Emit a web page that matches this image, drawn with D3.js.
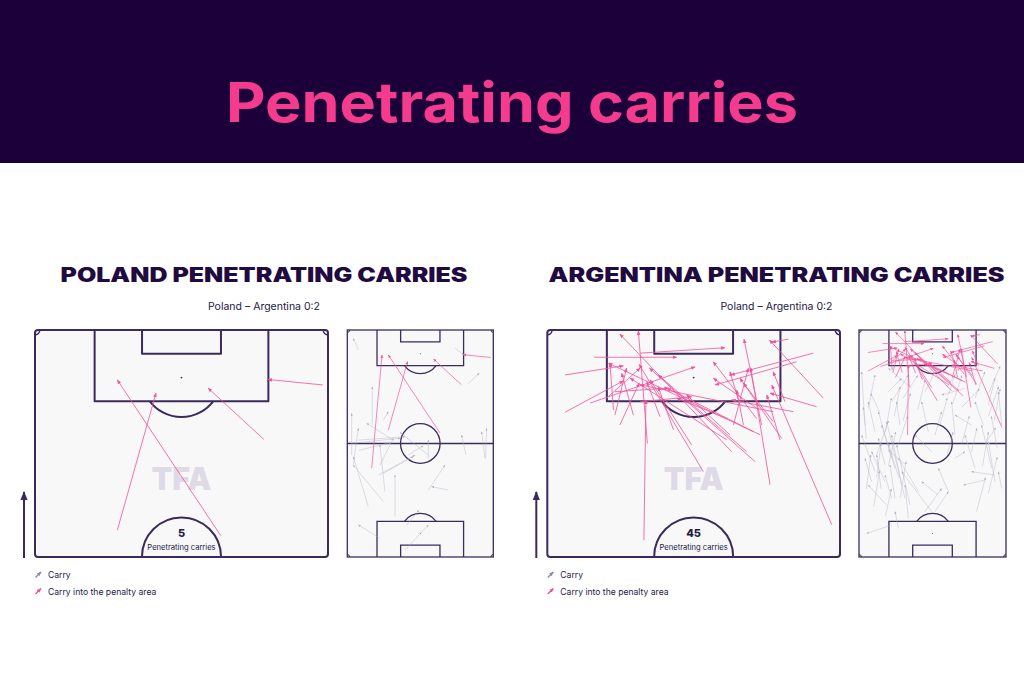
<!DOCTYPE html>
<html><head><meta charset="utf-8">
<script src="https://cdn.jsdelivr.net/npm/d3@7"></script>
<style>body{margin:0;background:#fff}svg{display:block}</style>
</head><body><svg id="c" width="1024" height="683"></svg>
<script>
// ---------- DATA ----------
const mainTitle = "Penetrating carries";
const panelTitles = ["POLAND PENETRATING CARRIES", "ARGENTINA PENETRATING CARRIES"];
const subtitles = ["Poland – Argentina 0:2", "Poland – Argentina 0:2"];
const carryCounts = [5, 45];
const countLabel = "Penetrating carries";
const legendLabels = ["Carry", "Carry into the penalty area"];
const watermark = "TFA";
// Each carry: [x start, y start, x end, y end]
// x = along the pitch (0 own goal line -> 100 opponent goal line), y = across (0 left touchline -> 100 right)
const polandPen = [
  [55.9,28.1,86.1,41.3],[54.7,63.4,89.0,28.1],[75.9,78.1,87.2,59.1],[87.9,98.2,89.1,79.5],[39.1,16.7,89.0,23.8]
];
const polandCarries = [
  [91.2,7.6,96.3,4.1],[92.0,73.8,89.0,79.9],[76.1,82.4,81.0,90.4],[58.1,17.1,75.0,17.1],[60.3,24.7,64.0,28.1],
  [44.9,3.0,63.3,3.0],[40.5,4.1,56.7,7.6],[51.5,31.5,58.9,13.3],[50.1,3.0,52.3,36.1],[44.9,55.5,54.9,36.1],
  [28.8,25.8,49.3,22.4],[36.1,21.3,44.9,46.4],[36.9,24.7,44.2,45.2],[17.8,32.7,36.1,32.7],[22.2,14.4,44.2,4.1],
  [24.4,24.7,40.5,4.1],[43.5,55.5,51.5,55.5],[29.5,55.5,40.5,66.9],[29.5,69.2,31.0,57.8],[44.9,81.3,53.7,78.3],
  [43.5,94.3,55.2,92.0],[43.5,94.7,56.7,95.4],[8.3,22.4,14.1,7.6],[3.1,39.5,14.1,55.5],[14.1,40.7,20.7,49.1],
  [40.5,22.4,52.3,31.5],[47.0,8.0,50.5,30.0],[45.0,42.0,49.0,52.0],[51.5,7.6,53.0,39.5]
];
const argentinaPen = [
  [53.7,33.0,84.6,33.7],[75.0,34.2,99.8,31.1],[73.2,63.0,99.1,24.8],[94.0,16.0,94.0,44.2],[94.9,31.7,96.1,60.7],
  [90.1,6.1,92.1,26.0],[81.9,6.1,88.8,26.0],[83.9,14.6,91.9,50.5],[79.1,24.8,88.3,31.4],[79.1,73.2,98.0,67.2],
  [85.0,94.3,97.8,75.9],[98.0,82.4,97.3,76.7],[94.9,90.9,90.1,62.7],[93.0,85.2,87.9,57.3],[57.1,97.2,87.9,76.7],
  [65.9,76.1,91.7,69.5],[68.8,53.3,92.4,31.4],[71.0,71.0,91.6,34.9],[73.2,68.1,90.1,37.9],[76.9,72.7,87.2,40.8],
  [77.6,70.4,92.7,20.9],[75.8,61.3,89.4,28.3],[76.1,80.1,89.4,65.8],[79.8,77.2,88.3,67.0],[83.1,92.0,86.1,76.1],
  [79.1,63.6,91.6,68.7],[80.5,71.5,93.0,56.7],[78.0,43.1,87.5,37.9],[80.9,38.5,88.6,34.0],[81.3,23.1,91.6,27.1],
  [82.0,77.2,87.9,31.7],[81.3,29.4,90.5,25.4],[82.4,22.6,92.7,21.4],[82.0,84.1,84.6,63.0],[79.1,67.0,86.8,64.7],
  [83.5,65.8,90.8,62.4],[75.8,79.5,85.7,75.0],[84.2,81.2,90.8,77.2],[74.7,49.3,89.0,35.1],[76.9,62.4,85.7,47.6],
  [86.4,23.1,87.2,41.4],[84.2,31.7,85.3,49.3],[80.5,61.3,85.0,44.2],[82.8,71.5,89.4,56.7],[85.0,20.3,91.6,31.7]
];
const argentinaCarries = [
  [58.1,4.1,81.6,1.8],[55.2,10.9,68.4,6.3],[43.5,22.2,64.0,13.2],[39.1,24.5,58.1,15.4],[25.8,31.3,59.6,18.8],
  [31.7,29.0,53.7,22.2],[22.9,34.7,49.3,25.6],[22.9,18.8,31.7,6.3],[14.1,22.2,10.4,5.2],[28.8,40.4,43.5,26.8],
  [12.6,26.8,20.0,24.5],[27.3,54.0,33.2,42.6],[72.8,20.0,78.7,29.0],[68.4,22.2,80.2,33.6],[58.1,27.9,68.4,25.6],
  [74.3,72.1,71.4,56.2],[53.7,65.3,68.4,63.0],[58.1,76.6,62.6,65.3],[58.1,84.6,68.4,78.9],[39.1,90.3,58.1,83.4],
  [33.2,92.5,50.8,88.0],[39.1,78.9,53.7,72.1],[36.1,92.5,37.6,76.6],[33.9,85.7,31.7,71.0],[30.2,97.1,37.6,94.8],
  [58.1,97.1,72.8,94.8],[55.2,47.2,68.4,42.6],[53.7,51.7,64.0,56.2],[37.6,10.9,53.7,1.8],[33.2,17.7,46.4,8.6],
  [20.0,49.4,37.6,29.0],[74.3,35.8,83.1,20.0],[20.0,51.7,28.8,60.8],[65.5,6.3,80.2,10.9],[46.4,49.4,53.7,38.1],
  [43.5,65.3,46.4,72.1],[69.9,78.9,81.6,85.7],[67.0,88.0,78.7,92.5],[72.8,44.9,81.6,51.7],[25.8,22.2,36.1,17.7],
  [17.0,33.6,31.7,31.3],[71.4,60.8,80.2,65.3],[40.5,17.7,52.3,13.2],[25.8,24.5,40.5,21.1],[33.2,8.6,43.5,4.1],
  [20.0,44.9,30.2,56.2],[28.8,60.8,39.1,54.0],[46.4,76.6,56.7,80.2],[60.0,30.0,72.0,35.0],[45.0,12.0,60.0,20.0],
  [35.0,27.0,50.0,20.0],[62.0,88.0,75.0,95.0],[48.0,94.0,62.0,90.0],[30.0,15.0,45.0,12.0],[52.0,5.0,66.0,3.0],
  [64.0,14.0,72.0,8.0],[48.0,26.0,62.0,33.0],[41.0,31.0,47.0,20.0],[66.0,70.0,74.0,82.0],[50.0,86.0,57.0,93.0],
  [30.0,5.0,45.0,8.0],[35.0,12.0,50.0,15.0],[22.0,10.0,38.0,14.0],[40.0,20.0,55.0,25.0],[26.0,28.0,42.0,32.0],
  [18.0,18.0,30.0,22.0],[55.0,18.0,70.0,22.0],[62.0,24.0,75.0,28.0],[70.0,30.0,80.0,40.0],[65.0,40.0,78.0,45.0],
  [58.0,55.0,70.0,60.0],[68.0,64.0,80.0,70.0],[50.0,70.0,62.0,75.0],[40.0,84.0,55.0,88.0],[28.0,88.0,44.0,94.0],
  [20.0,80.0,35.0,86.0],[60.0,92.0,74.0,96.0],[75.0,60.0,83.0,68.0],[72.0,88.0,84.0,96.0],[45.0,60.0,55.0,64.0]
];
const teamPen = [polandPen, argentinaPen];
const teamCarries = [polandCarries, argentinaCarries];

// ---------- STYLE / LAYOUT ----------
const W = 1024, H = 683;
const LINE = "#3b2b5c", PINK = "#f2509a", GREY = "#b3afc6", INK = "#241845";
const layouts = [
  { big: [35, 328], small: [347.3, 493.3], cx: 264 },
  { big: [547.3, 840], small: [859, 1006], cx: 776.5 }
];
const Y0 = 330, Y1 = 557;
const M = m => m / 105 * 100; // metres along the pitch -> units

const svg = d3.select("#c");
const defs = svg.append("defs");
function marker(id, color, size) {
  defs.append("marker").attr("id", id).attr("viewBox", "0 -5 10 10")
    .attr("refX", 9).attr("refY", 0).attr("markerWidth", size).attr("markerHeight", size)
    .attr("markerUnits", "userSpaceOnUse").attr("orient", "auto")
    .append("path").attr("d", "M0,-4L10,0L0,4Z").attr("fill", color);
}
marker("hPinkL", PINK, 4.5);
marker("hPinkS", PINK, 3.2);
marker("hGrey", GREY, 2.6);
marker("hDir", LINE, 9);
marker("hGreyL", "#8c87a3", 4.5);
marker("hPinkLeg", PINK, 4.5);

svg.append("rect").attr("width", W).attr("height", H).attr("fill", "#fff");
// header
svg.append("rect").attr("x", 0).attr("y", 0).attr("width", W).attr("height", 163).attr("fill", "#1c0039");
svg.append("text").attr("x", 512).attr("y", 122).attr("text-anchor", "middle")
  .attr("font-family", "Inter, 'Open Sans', sans-serif").attr("font-weight", 700).attr("font-size", 55)
  .attr("fill", "#f53b8d").attr("textLength", 572).attr("lengthAdjust", "spacingAndGlyphs").text(mainTitle);

function arcPath(cx, cy, r, a0, a1) {
  const p = d3.path();
  p.moveTo(cx + r * Math.cos(a0), cy + r * Math.sin(a0));
  p.arc(cx, cy, r, a0, a1, false);
  return p.toString();
}
const boxAng = Math.acos(5.5 / 9.15);

function drawCarries(g, data, sx, sy, color, width, op, mk, filterHalf) {
  g.selectAll(null).data(data.filter(d => !filterHalf || d[0] >= 50)).join("line")
    .attr("x1", d => sx(d[1])).attr("y1", d => sy(d[0]))
    .attr("x2", d => sx(d[3])).attr("y2", d => sy(d[2]))
    .attr("stroke", color).attr("stroke-width", width).attr("stroke-opacity", op)
    .attr("marker-end", `url(#${mk})`);
}

function drawHalf(g, x0, x1, pen, count) {
  const sx = d3.scaleLinear([0, 100], [x0, x1]);
  const sy = d3.scaleLinear([50, 100], [Y1, Y0]);
  const r = m => Math.abs(sy(50 + M(m)) - sy(50));
  const st = sel => sel.attr("fill", "none").attr("stroke", LINE).attr("stroke-width", 2);
  g.append("rect").attr("x", x0).attr("y", Y0).attr("width", x1 - x0).attr("height", Y1 - Y0)
    .attr("rx", 3).attr("fill", "#f8f8f9").attr("stroke", LINE).attr("stroke-width", 2);
  const pa = [20.35, 79.65], six = [36.53, 63.47];
  g.append("path").attr("d", `M${sx(pa[0])},${Y0}V${sy(100 - M(16.5))}H${sx(pa[1])}V${Y0}`).call(st).attr("stroke-linejoin", "round");
  g.append("path").attr("d", `M${sx(six[0])},${Y0}V${sy(100 - M(5.5))}H${sx(six[1])}V${Y0}`).call(st).attr("stroke-linejoin", "round");
  g.append("circle").attr("cx", sx(50)).attr("cy", sy(100 - M(11))).attr("r", 0.9).attr("fill", LINE);
  g.append("path").attr("d", arcPath(sx(50), sy(100 - M(11)), r(9.15), Math.PI / 2 - boxAng, Math.PI / 2 + boxAng)).call(st);
  g.append("path").attr("d", arcPath(sx(50), Y1, r(9.15), Math.PI, 2 * Math.PI)).call(st);
  g.append("path").attr("d", arcPath(x0, Y0, r(1.1), 0, Math.PI / 2)).call(st).attr("stroke-width", 1.5);
  g.append("path").attr("d", arcPath(x1, Y0, r(1.1), Math.PI / 2, Math.PI)).call(st).attr("stroke-width", 1.5);
  g.append("text").attr("x", sx(50)).attr("y", 490).attr("text-anchor", "middle")
    .attr("font-family", "Inter, sans-serif").attr("font-weight", 900).attr("font-size", 32)
    .attr("fill", "#dedbe6").attr("textLength", 60).attr("lengthAdjust", "spacingAndGlyphs").text(watermark);
  g.append("text").attr("x", sx(50)).attr("y", Y1 - 20).attr("text-anchor", "middle")
    .attr("font-family", "Inter, sans-serif").attr("font-weight", 800).attr("font-size", 11)
    .attr("fill", INK).text(count);
  g.append("text").attr("x", sx(50)).attr("y", Y1 - 7.5).attr("text-anchor", "middle")
    .attr("font-family", "Inter, sans-serif").attr("font-size", 7.6)
    .attr("fill", INK).text(countLabel);
  drawCarries(g, pen, sx, sy, PINK, 1, 0.8, "hPinkL", true);
}

function drawFull(g, x0, x1, pen, carries) {
  const sx = d3.scaleLinear([0, 100], [x0, x1]);
  const sy = d3.scaleLinear([0, 100], [Y1, Y0]);
  const r = m => Math.abs(sy(M(m)) - sy(0));
  const st = sel => sel.attr("fill", "none").attr("stroke", LINE).attr("stroke-width", 1.3);
  g.append("rect").attr("x", x0).attr("y", Y0).attr("width", x1 - x0).attr("height", Y1 - Y0)
    .attr("fill", "#f8f8f9").attr("stroke", LINE).attr("stroke-width", 1.3);
  const pa = [20.35, 79.65], six = [36.53, 63.47];
  g.append("path").attr("d", `M${sx(pa[0])},${Y0}V${sy(100 - M(16.5))}H${sx(pa[1])}V${Y0}`).call(st);
  g.append("path").attr("d", `M${sx(six[0])},${Y0}V${sy(100 - M(5.5))}H${sx(six[1])}V${Y0}`).call(st);
  g.append("path").attr("d", arcPath(sx(50), sy(100 - M(11)), r(9.15), Math.PI / 2 - boxAng, Math.PI / 2 + boxAng)).call(st);
  g.append("circle").attr("cx", sx(50)).attr("cy", sy(100 - M(11))).attr("r", 0.5).attr("fill", LINE);
  g.append("path").attr("d", `M${sx(pa[0])},${Y1}V${sy(M(16.5))}H${sx(pa[1])}V${Y1}`).call(st);
  g.append("path").attr("d", `M${sx(six[0])},${Y1}V${sy(M(5.5))}H${sx(six[1])}V${Y1}`).call(st);
  g.append("path").attr("d", arcPath(sx(50), sy(M(11)), r(9.15), 1.5 * Math.PI - boxAng, 1.5 * Math.PI + boxAng)).call(st);
  g.append("circle").attr("cx", sx(50)).attr("cy", sy(M(11))).attr("r", 0.5).attr("fill", LINE);
  g.append("line").attr("x1", x0).attr("x2", x1).attr("y1", sy(50)).attr("y2", sy(50)).call(st);
  g.append("circle").attr("cx", sx(50)).attr("cy", sy(50)).attr("r", r(9.15)).call(st);
  const cr = r(1.1);
  g.append("path").attr("d", arcPath(x0, Y0, cr, 0, Math.PI / 2)).call(st).attr("stroke-width", 1);
  g.append("path").attr("d", arcPath(x1, Y0, cr, Math.PI / 2, Math.PI)).call(st).attr("stroke-width", 1);
  g.append("path").attr("d", arcPath(x0, Y1, cr, 1.5 * Math.PI, 2 * Math.PI)).call(st).attr("stroke-width", 1);
  g.append("path").attr("d", arcPath(x1, Y1, cr, Math.PI, 1.5 * Math.PI)).call(st).attr("stroke-width", 1);
  drawCarries(g, carries, sx, sy, GREY, 0.7, 0.6, "hGrey", false);
  drawCarries(g, pen, sx, sy, PINK, 0.85, 0.8, "hPinkS", false);
}

layouts.forEach((L, i) => {
  const g = svg.append("g");
  g.append("text").attr("x", L.cx).attr("y", 281.5).attr("text-anchor", "middle")
    .attr("font-family", "Inter, 'DejaVu Sans', sans-serif").attr("font-weight", 900).attr("font-size", 19.5)
    .attr("fill", "#1f0b3f").attr("textLength", i === 0 ? 407 : 456).attr("lengthAdjust", "spacingAndGlyphs")
    .text(panelTitles[i]);
  g.append("text").attr("x", L.cx).attr("y", 309.5).attr("text-anchor", "middle")
    .attr("font-family", "Inter, sans-serif").attr("font-size", 10.5).attr("fill", INK).text(subtitles[i]);
  drawHalf(g.append("g"), L.big[0], L.big[1], teamPen[i], carryCounts[i]);
  drawFull(g.append("g"), L.small[0], L.small[1], teamPen[i], teamCarries[i]);
  g.append("line").attr("x1", L.big[0] - 11).attr("x2", L.big[0] - 11).attr("y1", Y1 + 1).attr("y2", 492)
    .attr("stroke", LINE).attr("stroke-width", 2).attr("marker-end", "url(#hDir)");
  legendLabels.forEach((lab, k) => {
    const yy = 575 + k * 16.5;
    g.append("line").attr("x1", L.big[0] + 0.5).attr("y1", yy + 2.5).attr("x2", L.big[0] + 6).attr("y2", yy - 3)
      .attr("stroke", k === 0 ? "#8c87a3" : PINK).attr("stroke-width", 1.4)
      .attr("marker-end", `url(#${k === 0 ? "hGreyL" : "hPinkLeg"})`);
    g.append("text").attr("x", L.big[0] + 13).attr("y", yy + 3.2)
      .attr("font-family", "Inter, sans-serif").attr("font-size", 8.6).attr("fill", INK).text(lab);
  });
});
</script></body></html>
